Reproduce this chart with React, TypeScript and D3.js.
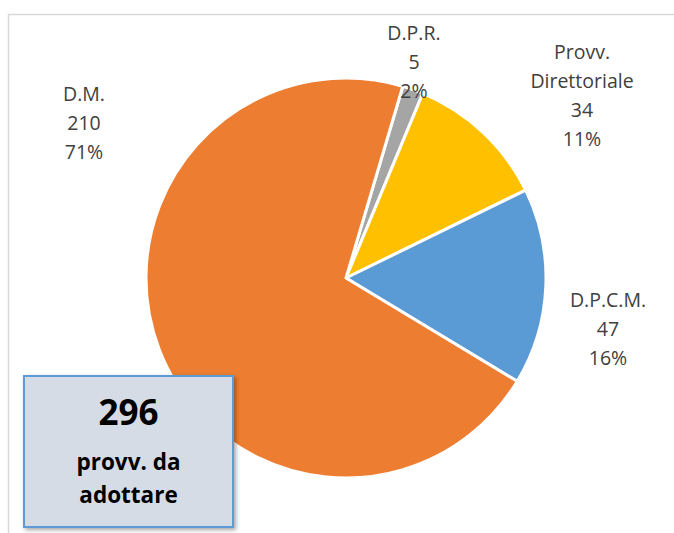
import { useRef, useEffect } from 'react';
import * as d3 from 'd3';

const categories = ['D.P.R.', 'Provv. Direttoriale', 'D.P.C.M.', 'D.M.'];
const values = [5, 34, 47, 210];
const percents = ['2%', '11%', '16%', '71%'];
const colors = ['#A5A5A5', '#FFC000', '#5B9BD5', '#ED7D31'];
// label lines and anchor positions (outside labels as in the original)
const labelLines = [['D.P.R.', '5', '2%'], ['Provv.', 'Direttoriale', '34', '11%'], ['D.P.C.M.', '47', '16%'], ['D.M.', '210', '71%']];
const labelPos = [[414, 40], [582, 59], [608, 307], [84, 101]];
const total = 296;

export default function App() {
  const svgRef = useRef<SVGSVGElement>(null);

  useEffect(() => {
    const svg = d3.select(svgRef.current);
    svg.selectAll('*').remove();

    const width = 674;
    const height = 533;
    const cx = 346;
    const cy = 278;
    const radius = 200;

    // chart frame
    svg.append('path')
      .attr('d', `M8.5,${height} V14.5 H${width}`)
      .attr('fill', 'none')
      .attr('stroke', '#D9D9D9')
      .attr('stroke-width', 1.5);

    const pie = d3.pie<number>()
      .sort(null)
      .startAngle(0.288)
      .endAngle(0.288 + Math.PI * 2);

    const arc = d3.arc<d3.PieArcDatum<number>>()
      .innerRadius(0)
      .outerRadius(radius);

    const g = svg.append('g').attr('transform', `translate(${cx},${cy})`);
    g.selectAll('path')
      .data(pie(values))
      .enter()
      .append('path')
      .attr('d', arc)
      .attr('fill', (d, i) => colors[i])
      .attr('stroke', '#fff')
      .attr('stroke-width', 3)
      .attr('stroke-linejoin', 'round');

    // labels
    labelLines.forEach((lines, i) => {
      const t = svg.append('text')
        .attr('x', labelPos[i][0])
        .attr('y', labelPos[i][1])
        .attr('text-anchor', 'middle')
        .attr('font-family', 'Open Sans, sans-serif')
        .attr('font-size', 19.5)
        .attr('fill', '#404040');
      lines.forEach((l, j) => {
        t.append('tspan')
          .attr('x', labelPos[i][0])
          .attr('dy', j === 0 ? 0 : 29)
          .text(l);
      });
    });

    // total box
    const defs = svg.append('defs');
    const f = defs.append('filter').attr('id', 'sh').attr('x', '-10%').attr('y', '-10%').attr('width', '130%').attr('height', '130%');
    f.append('feDropShadow').attr('dx', 2).attr('dy', 2).attr('stdDeviation', 2).attr('flood-color', '#000').attr('flood-opacity', 0.35);

    svg.append('rect')
      .attr('x', 24).attr('y', 376)
      .attr('width', 209).attr('height', 151)
      .attr('fill', '#D6DCE5')
      .attr('stroke', '#5B9BD5')
      .attr('stroke-width', 2)
      .attr('filter', 'url(#sh)');

    const bx = 128.5;
    svg.append('text')
      .attr('x', bx).attr('y', 425)
      .attr('text-anchor', 'middle')
      .attr('font-family', 'Open Sans, sans-serif')
      .attr('font-weight', 'bold')
      .attr('font-size', 35)
      .attr('fill', '#000')
      .text(String(total));
    ['provv. da', 'adottare'].forEach((l, j) => {
      svg.append('text')
        .attr('x', bx).attr('y', 470 + j * 33)
        .attr('text-anchor', 'middle')
        .attr('font-family', 'Open Sans, sans-serif')
        .attr('font-weight', 'bold')
        .attr('font-size', 22.5)
        .attr('fill', '#000')
        .text(l);
    });
  }, []);

  return (
    <svg ref={svgRef} width={674} height={533} style={{ position: 'absolute', left: 0, top: 0 }} />
  );
}
